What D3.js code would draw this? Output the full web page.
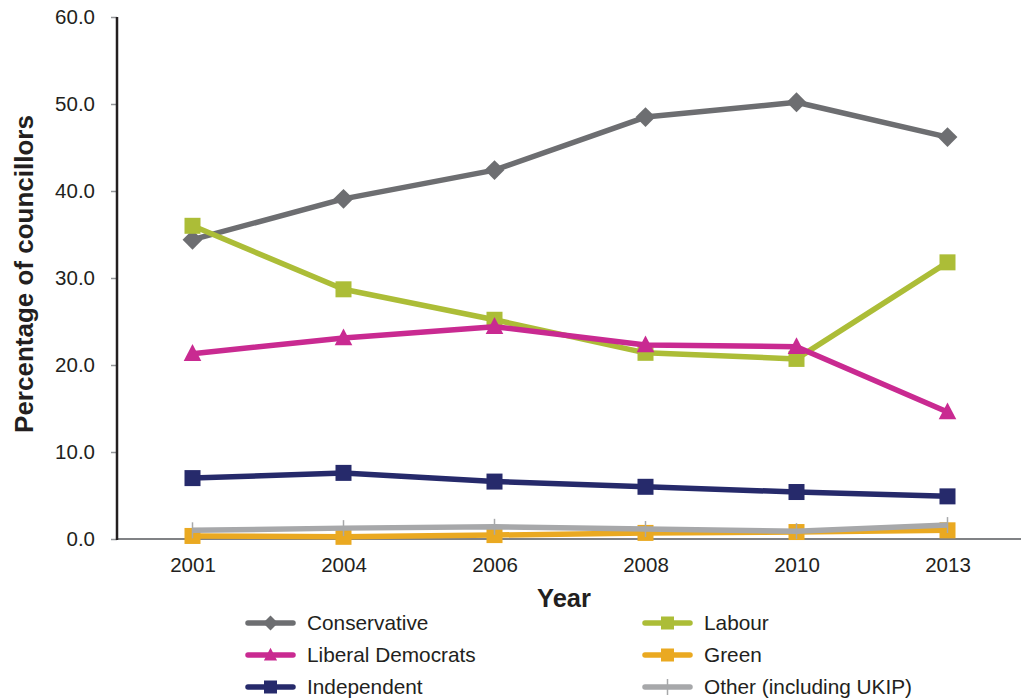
<!DOCTYPE html>
<html><head><meta charset="utf-8">
<script src="https://cdn.jsdelivr.net/npm/d3@7"></script>
<style>body{margin:0;background:#fff;} svg{display:block;font-family:"Liberation Sans",Arial,sans-serif;}</style>
</head><body>
<svg id="chart" width="1021" height="700"></svg>
<script>
const years = ["2001","2004","2006","2008","2010","2013"];
const yTicks = [0,10,20,30,40,50,60];
const seriesNames = ["Conservative","Labour","Liberal Democrats","Green","Independent","Other (including UKIP)"];
const conservative = [34.4,39.1,42.4,48.5,50.2,46.2];
const labour = [36.0,28.7,25.2,21.4,20.7,31.8];
const libdem = [21.3,23.1,24.4,22.3,22.1,14.6];
const green = [0.35,0.25,0.45,0.7,0.8,1.0];
const independent = [7.0,7.6,6.6,6.0,5.4,4.9];
const other = [1.0,1.25,1.4,1.15,0.9,1.6];
const colors = ["#6d6e71","#acbd37","#c92a91","#eaa921","#262a6b","#a7a8aa"];
const shapes = ["diamond","square","triangle","square","square","cross"];
const values = [conservative,labour,libdem,green,independent,other];

const FONT = "Liberation Sans, Arial, sans-serif";
const svg = d3.select("#chart");
const x = d3.scalePoint().domain(years).range([117,1023]).padding(0.5);
const y = d3.scaleLinear().domain([0,60]).range([539,17]);

// x axis line
svg.append("line").attr("x1",117).attr("x2",1021).attr("y1",y(0)).attr("y2",y(0))
  .attr("stroke","#808285").attr("stroke-width",2);
// x labels
const xa = svg.append("g").attr("transform",`translate(0,${y(0)})`)
  .call(d3.axisBottom(x).tickSize(0).tickPadding(18));
xa.select(".domain").remove();
xa.selectAll("text").attr("font-size",20.5).attr("fill","#231f20").attr("font-family",FONT);

// y axis
const ya = svg.append("g").attr("transform","translate(117,0)")
  .call(d3.axisLeft(y).tickValues(yTicks).tickFormat(d3.format(".1f")).tickSize(6).tickPadding(16));
ya.select(".domain").remove();
ya.selectAll(".tick line").attr("stroke","#939598").attr("stroke-width",1.5);
ya.selectAll("text").attr("font-size",20.5).attr("fill","#231f20").attr("font-family",FONT);
svg.append("line").attr("x1",117).attr("x2",117).attr("y1",y(60)).attr("y2",y(0)+1)
  .attr("stroke","#231f20").attr("stroke-width",2.5);

// titles
svg.append("text").attr("x",564).attr("y",607).attr("text-anchor","middle")
  .attr("font-size",25.5).attr("font-weight","bold").attr("fill","#231f20").text("Year");
svg.append("text").attr("transform","translate(33,274) rotate(-90)").attr("text-anchor","middle")
  .attr("font-size",26).attr("font-weight","bold").attr("fill","#231f20").text("Percentage of councillors");

function marker(g, shape, color, cx, cy, s) {
  if (shape==="square") {
    g.append("rect").attr("x",cx-s/2).attr("y",cy-s/2).attr("width",s).attr("height",s).attr("fill",color);
  } else if (shape==="diamond") {
    const r = s*0.62;
    g.append("path").attr("d",`M${cx},${cy-r}L${cx+r},${cy}L${cx},${cy+r}L${cx-r},${cy}Z`).attr("fill",color);
  } else if (shape==="triangle") {
    const h = s*1.0, w = s*1.1;
    g.append("path").attr("d",`M${cx},${cy-h*0.6}L${cx+w/2},${cy+h*0.45}L${cx-w/2},${cy+h*0.45}Z`).attr("fill",color);
  } else if (shape==="cross") {
    g.append("line").attr("x1",cx).attr("x2",cx).attr("y1",cy-8).attr("y2",cy+8).attr("stroke",color).attr("stroke-width",1.5);
  }
}

const line = d3.line().x((d,i)=>x(years[i])).y(d=>y(d));
seriesNames.forEach((name,k)=>{
  const g = svg.append("g");
  g.append("path").datum(values[k]).attr("d",line).attr("fill","none")
    .attr("stroke",colors[k]).attr("stroke-width",5.5).attr("stroke-linejoin","round");
  values[k].forEach((v,i)=>marker(g,shapes[k],colors[k],x(years[i]),y(v),16));
});

// legend
const legendPos = [[248,623],[645,623],[248,655],[645,655],[248,687],[645,687]];
seriesNames.forEach((name,k)=>{
  const [lx,ly] = legendPos[k];
  const g = svg.append("g");
  g.append("line").attr("x1",lx).attr("x2",lx+45).attr("y1",ly).attr("y2",ly)
    .attr("stroke",colors[k]).attr("stroke-width",5.5).attr("stroke-linecap","round");
  marker(g,shapes[k],colors[k],lx+22.5,ly,shapes[k]==="square"?13:12);
  g.append("text").attr("x",lx+59).attr("y",ly+7).attr("font-size",20.8).attr("fill","#231f20")
    .attr("font-family",FONT).text(name);
});
</script>
</body></html>
